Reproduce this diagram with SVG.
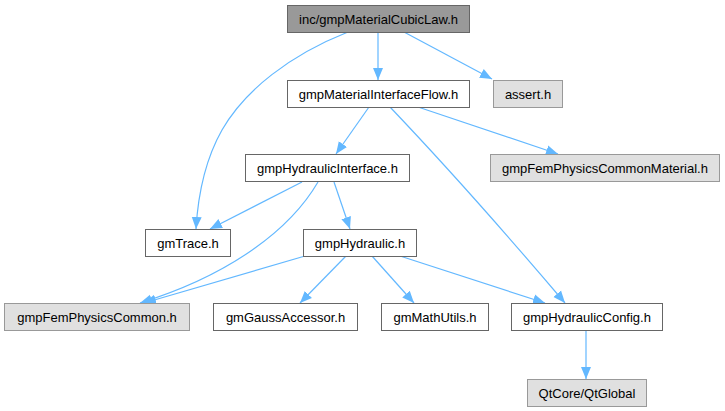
<svg xmlns="http://www.w3.org/2000/svg" width="725" height="411" viewBox="0 0 725 411">
<defs>
<style>
.n rect{fill:#ffffff;stroke:#666666;stroke-width:1}
.n.root rect{fill:#999999;stroke:#666666}
.n.ext rect{fill:#e0e0e0;stroke:#999999}
.n text{font-family:"Liberation Sans",Arial,sans-serif;font-size:13px;fill:#000000;text-anchor:middle}
.e path{fill:none;stroke:#63b8ff;stroke-width:1.2;marker-end:url(#ah)}
</style>
<marker id="ah" viewBox="0 0 12 12" refX="12" refY="6" markerWidth="12" markerHeight="12" markerUnits="userSpaceOnUse" orient="auto">
<path d="M0,1 L12,6 L0,11 Z" fill="#63b8ff" stroke="none"/>
</marker>
</defs>
<rect width="725" height="411" fill="#ffffff"/>
<g id="edges" class="e">
<path d="M378,32 L378,80"/>
<path d="M404,32 L492,79"/>
<path d="M348,32 C290,55 245,90 222,130 C205,160 198,195 196,229"/>
<path d="M369,107 L336,154"/>
<path d="M418,107 L558,154"/>
<path d="M390,107 C450,170 520,250 565,303"/>
<path d="M302,182 L210,229"/>
<path d="M318,182 C290,230 230,275 140,303"/>
<path d="M334,182 L350,229"/>
<path d="M305,256 L144,303"/>
<path d="M346,256 L300,303"/>
<path d="M372,256 L414,303"/>
<path d="M400,256 L545,303"/>
<path d="M586,330 L586,379"/>
</g>
<g id="n0" class="n root"><rect x="287.5" y="5.5" width="182" height="27"/><text x="378.5" y="23.5">inc/gmpMaterialCubicLaw.h</text></g>
<g id="n1" class="n"><rect x="287.5" y="80.5" width="182" height="27"/><text x="378.5" y="98.5">gmpMaterialInterfaceFlow.h</text></g>
<g id="n2" class="n ext"><rect x="493.5" y="80.5" width="69" height="27"/><text x="528" y="98.5">assert.h</text></g>
<g id="n3" class="n ext"><rect x="490.5" y="154.5" width="229" height="27"/><text x="605" y="172.5">gmpFemPhysicsCommonMaterial.h</text></g>
<g id="n4" class="n"><rect x="245.5" y="154.5" width="164" height="27"/><text x="327.5" y="172.5">gmpHydraulicInterface.h</text></g>
<g id="n5" class="n"><rect x="145.5" y="229.5" width="85" height="27"/><text x="188" y="247.5">gmTrace.h</text></g>
<g id="n6" class="n"><rect x="303.5" y="229.5" width="113" height="27"/><text x="360" y="247.5">gmpHydraulic.h</text></g>
<g id="n7" class="n ext"><rect x="4.5" y="303.5" width="185" height="27"/><text x="97" y="321.5">gmpFemPhysicsCommon.h</text></g>
<g id="n8" class="n"><rect x="213.5" y="303.5" width="144" height="27"/><text x="285.5" y="321.5">gmGaussAccessor.h</text></g>
<g id="n9" class="n"><rect x="381.5" y="303.5" width="107" height="27"/><text x="435" y="321.5">gmMathUtils.h</text></g>
<g id="n10" class="n"><rect x="511.5" y="303.5" width="151" height="27"/><text x="587" y="321.5">gmpHydraulicConfig.h</text></g>
<g id="n11" class="n ext"><rect x="527.5" y="379.5" width="119" height="27"/><text x="587" y="397.5">QtCore/QtGlobal</text></g>
</svg>
